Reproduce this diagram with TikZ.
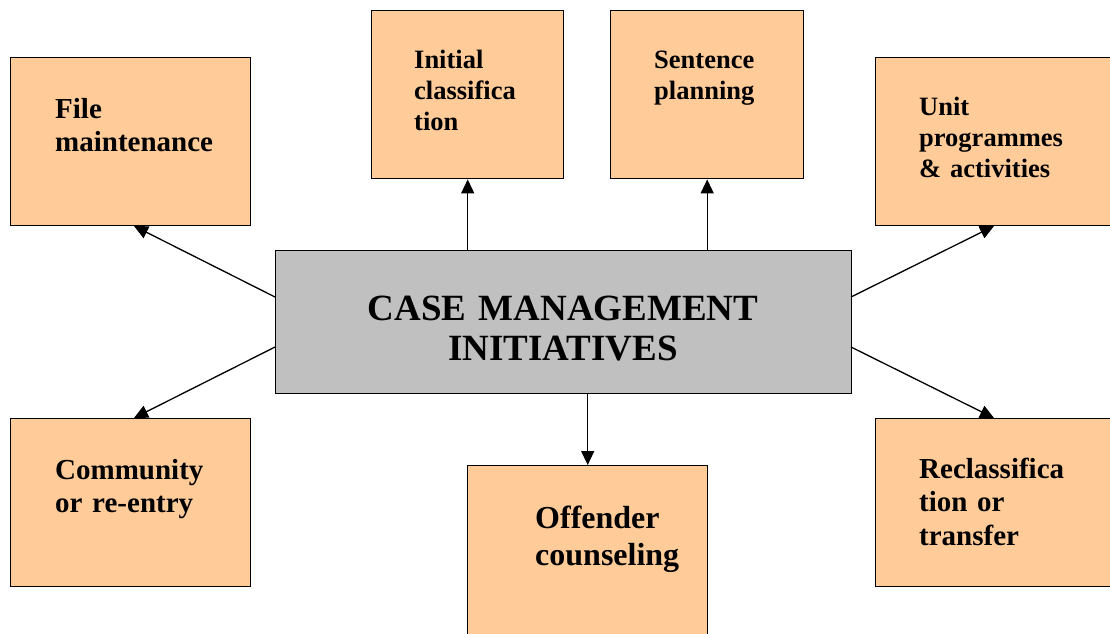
\documentclass[tikz,border=0pt]{standalone}
\usepackage{fontspec}
\setmainfont{Liberation Serif}
\usetikzlibrary{arrows.meta}

\definecolor{peach}{HTML}{FFCC99}
\definecolor{hubgrey}{HTML}{C0C0C0}

\tikzset{
  leaf/.style={draw=black, line width=1.4pt, fill=peach, rectangle,
    inner sep=0pt, minimum width=#1, minimum height=168pt, anchor=north west},
  leaf/.default=240pt,
  hub/.style={draw=black, line width=1.4pt, fill=hubgrey, rectangle,
    inner sep=0pt, minimum width=576pt, minimum height=143pt, anchor=north west},
  boxtext/.style={anchor=base west, inner sep=0pt, text width=220pt, align=left},
  link/.style={line width=1.3pt, -{Triangle[length=14pt,width=13pt]}}
}
\newcommand{\smalltxt}{\bfseries\fontsize{26.5pt}{31pt}\selectfont}
\newcommand{\midtxt}{\bfseries\fontsize{29pt}{33.5pt}\selectfont}
\newcommand{\bigtxt}{\bfseries\fontsize{32pt}{37pt}\selectfont}
\newcommand{\hubtxt}{\bfseries\fontsize{37pt}{40pt}\selectfont}

\begin{document}
\begin{tikzpicture}[x=1pt, y=-1pt]
\useasboundingbox (0,0) rectangle (1110,633);
\clip (0,0) rectangle (1110,633);

% outer boxes (the right-hand and bottom ones run past the page edge)
\node[leaf]        (file)  at (10,57)   {};
\node[leaf=192pt]  (init)  at (371,10)  {};
\node[leaf=193pt]  (sent)  at (610,10)  {};
\node[leaf=270pt]  (unit)  at (875,57)  {};
\node[leaf]        (comm)  at (10,418)  {};
\node[leaf, minimum height=180pt] (offd) at (467,465) {};
\node[leaf=270pt]  (recl)  at (875,418) {};

% central box
\node[hub] (hub) at (275,250) {};

% box captions
\node[boxtext, font=\midtxt]   (tfile) at (55,118)  {File\\maintenance};
\node[boxtext, font=\smalltxt] (tinit) at (414,68)  {Initial\\classifica\\tion};
\node[boxtext, font=\smalltxt] (tsent) at (654,68)  {Sentence\\planning};
\node[boxtext, font=\smalltxt] (tunit) at (919,115) {Unit\\programmes\\\& activities};
\node[boxtext, font=\midtxt]   (tcomm) at (55,479)  {Community\\or re-entry};
\node[boxtext, font=\bigtxt]   (toffd) at (535,528) {Offender\\counseling};
\node[boxtext, font=\midtxt]   (trecl) at (919,478) {Reclassifica\\tion or\\transfer};

% central caption
\node[anchor=base, inner sep=0pt, text width=560pt, align=center, font=\hubtxt]
  (thub) at (563,320) {CASE MANAGEMENT\\INITIATIVES};

% connector end points
\coordinate (hubNW) at (275,297);
\coordinate (hubSW) at (275,347);
\coordinate (hubNE) at (851,297);
\coordinate (hubSE) at (851,347);
\coordinate (fileIn) at (134,226);
\coordinate (commIn) at (134,418);
\coordinate (unitIn) at (994,226);
\coordinate (reclIn) at (994,418);

% connectors
\draw[link] (hub.north -| init.south) -- (init.south);
\draw[link] (hub.north -| sent.south) -- (sent.south);
\draw[link] (hub.south -| offd.north) -- (offd.north);
\draw[link] (hubNW) -- (fileIn);
\draw[link] (hubSW) -- (commIn);
\draw[link] (hubNE) -- (unitIn);
\draw[link] (hubSE) -- (reclIn);
\end{tikzpicture}
\end{document}
